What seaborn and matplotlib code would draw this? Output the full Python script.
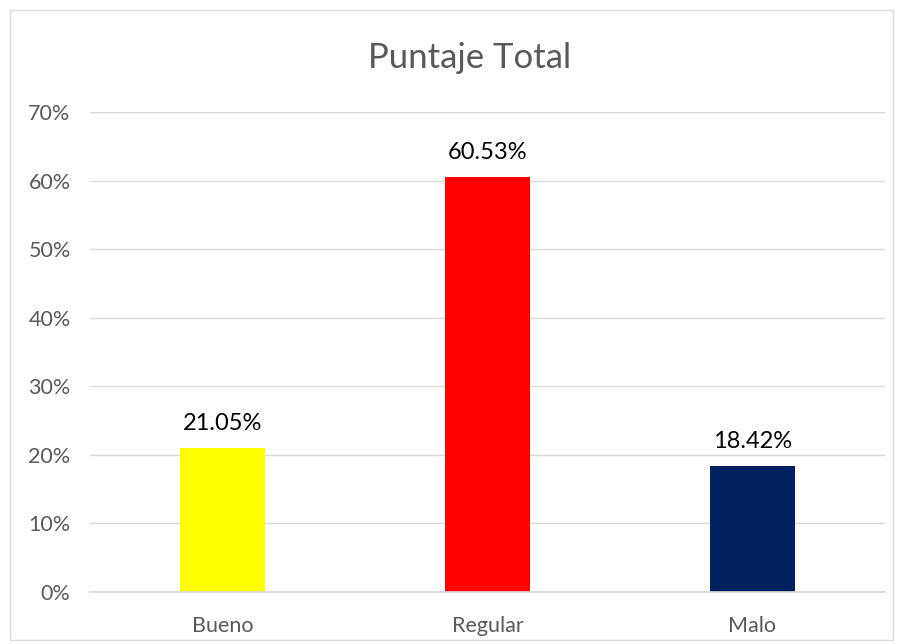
import matplotlib
matplotlib.use("Agg")
import matplotlib.pyplot as plt
import seaborn as sns
import pandas as pd
from matplotlib.patches import Rectangle

categories = ["Bueno", "Regular", "Malo"]
values = [21.05, 60.53, 18.42]
labels = ["21.05%", "60.53%", "18.42%"]
colors = ["#FFFF00", "#FF0000", "#002060"]
yticks = [0, 10, 20, 30, 40, 50, 60, 70]
ytick_labels = ["0%", "10%", "20%", "30%", "40%", "50%", "60%", "70%"]

sns.set_theme(style="white")
plt.rcParams['font.family'] = ['Lato', 'DejaVu Sans']

df = pd.DataFrame({"cat": categories, "val": values})

fig = plt.figure(figsize=(9.03, 6.44), dpi=100)
ax = fig.add_axes([90/903, 1-592/644, 795/903, 480/644])

sns.barplot(data=df, x="cat", y="val", hue="cat", palette=colors, width=0.317,
            legend=False, ax=ax, saturation=1, edgecolor="none")

ax.set_xlim(-0.5, 2.5)
ax.set_ylim(0, 70)
ax.set_yticks(yticks)
ax.set_yticklabels(ytick_labels)
ax.yaxis.grid(True, color="#D9D9D9", linewidth=1)
ax.set_axisbelow(True)
for s in ["top", "right", "left"]:
    ax.spines[s].set_visible(False)
ax.spines["bottom"].set_color("#D9D9D9")
ax.tick_params(axis="both", length=0, labelsize=15.5, colors="#595959")
ax.tick_params(axis="x", pad=17)
ax.tick_params(axis="y", pad=14)
ax.set_xlabel("")
ax.set_ylabel("")

for i, (v, lab) in enumerate(zip(values, labels)):
    ax.text(i, v + 2, lab, ha="center", va="bottom", fontsize=17, color="#000000")

fig.text(470/903, 1-58/644, "Puntaje Total", ha="center", va="center",
         fontsize=25, color="#595959")

fig.patches.append(Rectangle((10/903, 4/644), 883/903, 630/644, transform=fig.transFigure,
                             fill=False, edgecolor="#D9D9D9", linewidth=1))

fig.savefig("out.png", dpi=100)
